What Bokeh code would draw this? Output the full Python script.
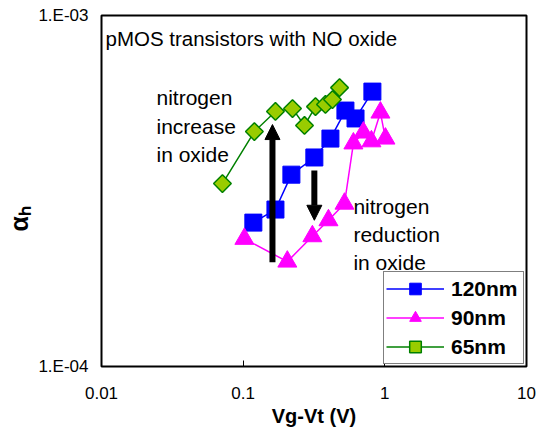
import numpy as np
from bokeh.plotting import figure
from bokeh.models import (Label, Legend, LegendItem, FixedTicker, CustomJSTickFormatter,
                          Arrow, NormalHead)
from bokeh.embed import file_html
from bokeh.resources import INLINE

# ---------------- data ----------------
vg_120 = [0.118, 0.169, 0.219, 0.318, 0.413, 0.527, 0.621, 0.817]
ah_120 = [2.57e-4, 2.80e-4, 3.52e-4, 3.94e-4, 4.46e-4, 5.36e-4, 5.09e-4, 6.07e-4]

vg_90 = [0.102, 0.205, 0.308, 0.400, 0.519, 0.600, 0.706, 0.804, 0.931, 1.01]
ah_90 = [2.31e-4, 1.99e-4, 2.35e-4, 2.61e-4, 2.91e-4, 4.32e-4, 4.64e-4, 4.38e-4, 5.29e-4, 4.46e-4]

vg_65 = [0.0714, 0.120, 0.169, 0.223, 0.271, 0.324, 0.381, 0.427, 0.479]
ah_65 = [3.32e-4, 4.67e-4, 5.33e-4, 5.43e-4, 4.86e-4, 5.50e-4, 5.58e-4, 5.76e-4, 6.23e-4]

series_labels = ["120nm", "90nm", "65nm"]
x_tick_values = [0.01, 0.1, 1, 10]
y_tick_values = [1e-4, 1e-3]

# arrows (data coordinates)
arrow_x = [0.161, 0.318]
arrow_y_start = [1.98e-4, 3.62e-4]
arrow_y_end = [4.89e-4, 2.61e-4]

FONT = "Liberation Sans"

p = figure(width=544, height=430, x_axis_type="log", y_axis_type="log",
           x_range=(0.01, 10), y_range=(1e-4, 1e-3),
           output_backend="svg", toolbar_location=None,
           min_border_left=101, min_border_right=18, min_border_top=15, min_border_bottom=64)

p.background_fill_color = "white"
p.border_fill_color = "white"
p.outline_line_color = "black"
p.outline_line_width = 2
p.xgrid.visible = False
p.ygrid.visible = False

# axes
p.xaxis.ticker = FixedTicker(ticks=x_tick_values)
p.yaxis.ticker = FixedTicker(ticks=y_tick_values)
p.xaxis.formatter = CustomJSTickFormatter(
    code="return tick >= 1 ? tick.toFixed(0) : parseFloat(tick.toPrecision(2)).toString();")
p.yaxis.formatter = CustomJSTickFormatter(
    code="const e = Math.round(Math.log10(tick)); return '1.E' + (e < 0 ? '-' : '+') + String(Math.abs(e)).padStart(2, '0');")
for ax in (p.xaxis, p.yaxis):
    ax.axis_line_color = None
    ax.major_tick_in = 6
    ax.major_tick_out = 0
    ax.major_tick_line_color = "black"
    ax.minor_tick_line_color = None
    ax.major_label_text_font = FONT
    ax.major_label_text_font_size = "17px"
    ax.major_label_text_color = "black"
p.xaxis.major_label_standoff = 20
p.yaxis.major_label_standoff = 13
p.xaxis.axis_label = "Vg-Vt (V)"
p.xaxis.axis_label_text_font = FONT
p.xaxis.axis_label_text_font_style = "bold"
p.xaxis.axis_label_text_font_size = "20px"
p.xaxis.axis_label_text_color = "black"
p.xaxis.axis_label_standoff = 3

# y axis title: alpha with subscript h (padded so it sits below the centre like the reference)
p.yaxis.axis_label = "\u03b1\u2095" + "\u00a0" * 8
p.yaxis.axis_label_text_font = FONT
p.yaxis.axis_label_text_font_style = "bold"
p.yaxis.axis_label_text_font_size = "25px"
p.yaxis.axis_label_text_color = "black"
p.yaxis.axis_label_standoff = 2

# series
l120 = p.line(vg_120, ah_120, line_color="#0000FF", line_width=1.5)
s120 = p.scatter(vg_120, ah_120, marker="square", size=17, fill_color="#0000FF", line_color="#0000FF")
l90 = p.line(vg_90, ah_90, line_color="#FF00FF", line_width=1.5)
s90 = p.scatter(vg_90, ah_90, marker="triangle", size=19, fill_color="#FF00FF", line_color="#FF00FF")
l65 = p.line(vg_65, ah_65, line_color="#008000", line_width=1.5)
s65 = p.scatter(vg_65, ah_65, marker="square", angle=np.pi / 4, size=12.5,
                fill_color="#99CC00", line_color="#008000", line_width=1.5)

# arrows
for xa, y0, y1 in zip(arrow_x, arrow_y_start, arrow_y_end):
    p.add_layout(Arrow(end=NormalHead(size=15, fill_color="black", line_color="black"),
                       x_start=xa, y_start=y0, x_end=xa, y_end=y1,
                       line_color="black", line_width=6))

# helpers for annotation placement (pixel -> data)
def dx(px):
    return 10 ** ((px - 101) / 141.7 - 2)

def dy(py):
    return 10 ** (-3 - (py - 15) / 351)

def add_text(txt, px, py, size="21px", style="normal", align="left"):
    p.add_layout(Label(x=dx(px), y=dy(py), text=txt, text_font=FONT, text_font_size=size,
                       text_font_style=style, text_align=align, text_baseline="alphabetic",
                       text_color="black"))

add_text("pMOS transistors with NO oxide", 105, 38, size="20.5px")
for i, t in enumerate(["nitrogen", "increase", "in oxide"]):
    add_text(t, 156, 97 + 28.5 * i)
for i, t in enumerate(["nitrogen", "reduction", "in oxide"]):
    add_text(t, 353, 206 + 28 * i)

# legend
legend = Legend(items=[LegendItem(label=series_labels[0], renderers=[l120, s120]),
                       LegendItem(label=series_labels[1], renderers=[l90, s90]),
                       LegendItem(label=series_labels[2], renderers=[l65, s65])],
                location=(282, 2), orientation="vertical",
                glyph_width=58, glyph_height=29, spacing=0, padding=2, margin=0,
                label_standoff=7, label_width=70, label_height=20,
                label_text_font=FONT, label_text_font_size="21px", label_text_font_style="bold",
                label_text_color="black", label_text_baseline="middle",
                border_line_color="black", border_line_width=1,
                background_fill_color="white", background_fill_alpha=1)
p.add_layout(legend)

open("out.html", "w").write(file_html(p, INLINE))
